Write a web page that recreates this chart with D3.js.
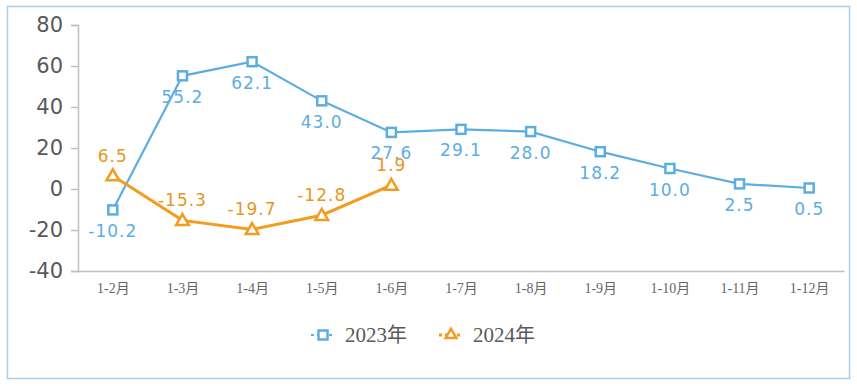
<!DOCTYPE html>
<html>
<head>
<meta charset="utf-8">
<script src="https://cdn.jsdelivr.net/npm/d3@7"></script>
<style>
  body { margin: 0; background: #fff; }
  svg { display: block; }
</style>
</head>
<body>
<svg id="chart" width="857" height="386"></svg>
<script>
var months = ["1-2月", "1-3月", "1-4月", "1-5月", "1-6月", "1-7月", "1-8月", "1-9月", "1-10月", "1-11月", "1-12月"];
var values2023 = [-10.2, 55.2, 62.1, 43.0, 27.6, 29.1, 28.0, 18.2, 10.0, 2.5, 0.5];
var values2024 = [6.5, -15.3, -19.7, -12.8, 1.9];
var yTicks = [-40, -20, 0, 20, 40, 60, 80];
var seriesNames = ["2023年", "2024年"];

var blue = "#5dade2";
var orange = "#f39c1f";
var serif = "'Liberation Serif', 'Times New Roman', 'Noto Sans CJK SC', serif";

var svg = d3.select("#chart");

// outer frame
svg.append("rect")
	.attr("x", 7.5).attr("y", 6.5)
	.attr("width", 842).attr("height", 372)
	.attr("fill", "none")
	.attr("stroke", "#a9cdec")
	.attr("stroke-width", 1.5);

var x = d3.scalePoint()
	.domain(months)
	.range([78, 844])
	.padding(0.5);

var y = d3.scaleLinear()
	.domain([-40, 80])
	.range([271, 25]);

// y axis
var yAxis = d3.axisLeft(y)
	.tickValues(yTicks)
	.tickSize(7)
	.tickPadding(8)
	.tickFormat(function (d) { return String(d); });

var gy = svg.append("g")
	.attr("transform", "translate(78,0)")
	.call(yAxis);
gy.select(".domain").attr("stroke", "#c0c0c0").attr("stroke-width", 1.5);
gy.selectAll(".tick line").attr("stroke", "#c0c0c0").attr("stroke-width", 1.5);
gy.selectAll("text")
	.attr("fill", "#595959")
	.style("font-family", "'DejaVu Sans', Verdana, sans-serif")
	.style("font-size", "21px");

// x axis
var xAxis = d3.axisBottom(x).tickSize(0).tickPadding(12);
var gx = svg.append("g")
	.attr("transform", "translate(0," + y(-40) + ")")
	.call(xAxis);
gx.select(".domain").attr("stroke", "#c0c0c0").attr("stroke-width", 1.5);
gx.selectAll("text")
	.attr("fill", "#666")
	.style("font-family", serif)
	.style("font-size", "14px");

var line = d3.line()
	.x(function (d, i) { return x(months[i]); })
	.y(function (d) { return y(d); });

// 2023
svg.append("path")
	.datum(values2023)
	.attr("fill", "none")
	.attr("stroke", blue)
	.attr("stroke-width", 2.2)
	.attr("d", line);

svg.selectAll(".sq")
	.data(values2023)
	.enter().append("rect")
	.attr("x", function (d, i) { return x(months[i]) - 4.5; })
	.attr("y", function (d) { return y(d) - 4.5; })
	.attr("width", 9).attr("height", 9)
	.attr("fill", "#fff")
	.attr("stroke", blue)
	.attr("stroke-width", 2.5);

svg.selectAll(".lbl23")
	.data(values2023)
	.enter().append("text")
	.attr("x", function (d, i) { return x(months[i]); })
	.attr("y", function (d) { return y(d) + 27; })
	.attr("text-anchor", "middle")
	.attr("fill", blue)
	.style("font-family", "'DejaVu Sans', Verdana, sans-serif")
	.style("font-size", "17px")
	.style("letter-spacing", "1px")
	.text(function (d) { return d.toFixed(1); });

// 2024
svg.append("path")
	.datum(values2024)
	.attr("fill", "none")
	.attr("stroke", orange)
	.attr("stroke-width", 3)
	.attr("d", line);

var tri = d3.symbol().type(d3.symbolTriangle).size(70);
svg.selectAll(".tri")
	.data(values2024)
	.enter().append("path")
	.attr("d", tri)
	.attr("transform", function (d, i) { return "translate(" + x(months[i]) + "," + (y(d) + 1) + ")"; })
	.attr("fill", "#fff")
	.attr("stroke", orange)
	.attr("stroke-width", 2.5);

svg.selectAll(".lbl24")
	.data(values2024)
	.enter().append("text")
	.attr("x", function (d, i) { return x(months[i]); })
	.attr("y", function (d) { return y(d) - 14; })
	.attr("text-anchor", "middle")
	.attr("fill", "#e8961e")
	.style("font-family", "'DejaVu Sans', Verdana, sans-serif")
	.style("font-size", "17px")
	.style("letter-spacing", "1px")
	.text(function (d) { return d.toFixed(1); });

// legend
var legend = svg.append("g");
var legendItems = [
	{ name: seriesNames[0], color: blue, x: 323 },
	{ name: seriesNames[1], color: orange, x: 451 }
];
legendItems.forEach(function (item, k) {
	var g = legend.append("g").attr("transform", "translate(" + item.x + ",335)");
	g.append("line")
		.attr("x1", -12).attr("x2", 12)
		.attr("stroke", item.color)
		.attr("stroke-width", k === 0 ? 2.2 : 3)
		.attr("stroke-dasharray", "3,3");
	if (k === 0) {
		g.append("rect")
			.attr("x", -4.5).attr("y", -4.5)
			.attr("width", 9).attr("height", 9)
			.attr("fill", "#fff").attr("stroke", item.color).attr("stroke-width", 2.5);
	} else {
		g.append("path")
			.attr("d", d3.symbol().type(d3.symbolTriangle).size(50))
			.attr("fill", "#fff").attr("stroke", item.color).attr("stroke-width", 2.5);
	}
	var t = g.append("text")
		.attr("x", 22)
		.attr("y", 7)
		.attr("fill", "#595959")
		.style("font-size", "21px");
	t.append("tspan")
		.style("font-family", "'Liberation Serif', serif")
		.text(item.name.slice(0, 4));
	t.append("tspan")
		.style("font-family", "'Noto Sans CJK SC', sans-serif")
		.style("font-size", "20px")
		.text(item.name.slice(4));
});
</script>
</body>
</html>
